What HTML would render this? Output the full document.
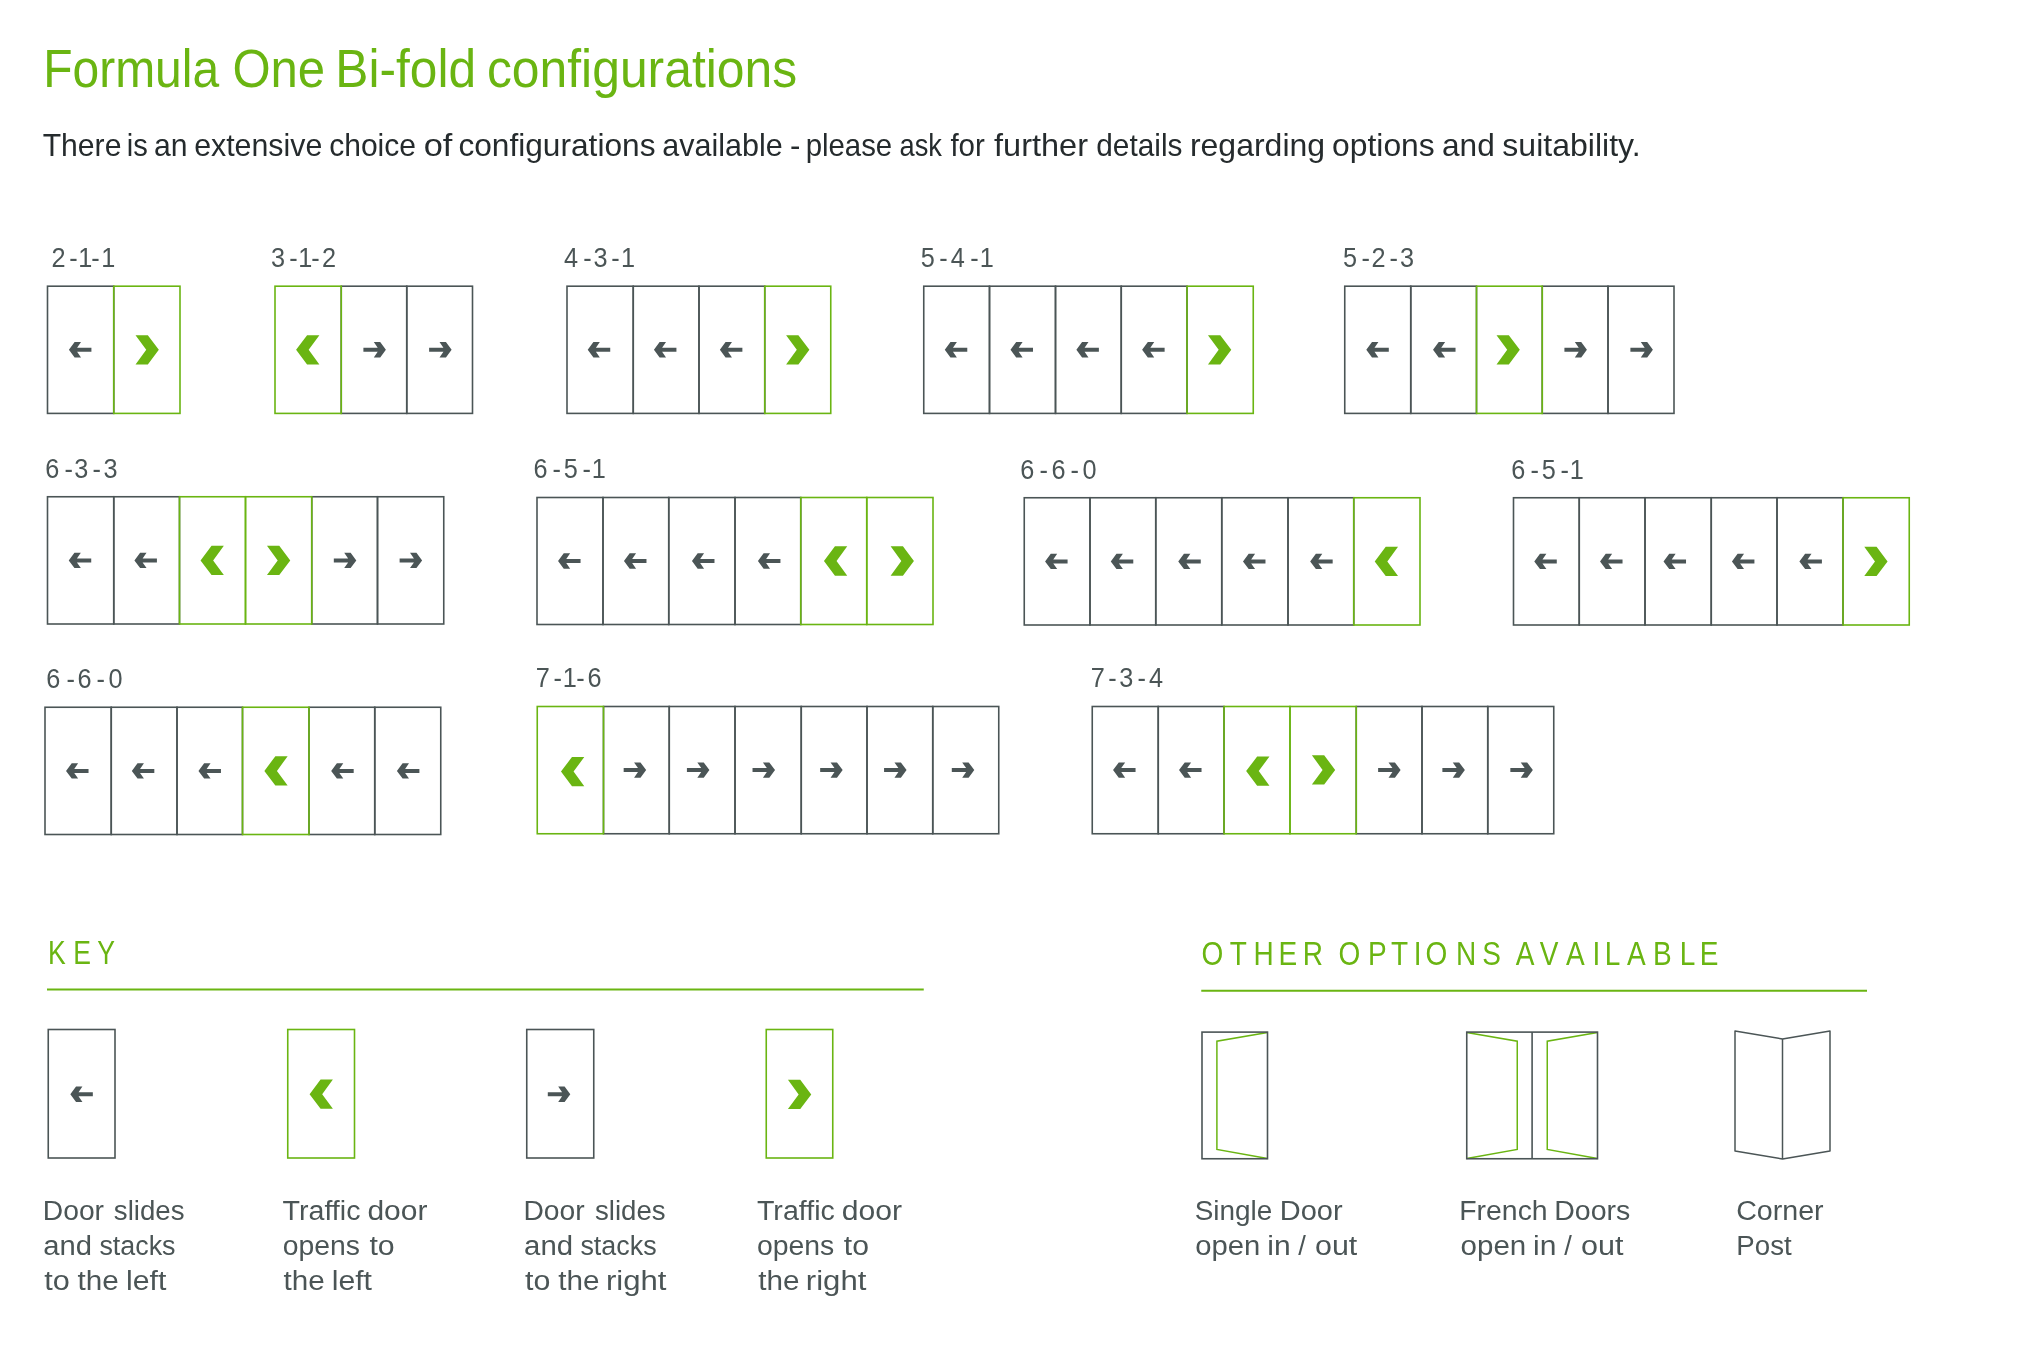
<!DOCTYPE html>
<html lang="en"><head><meta charset="utf-8"><title>Formula One Bi-fold configurations</title>
<style>html,body{margin:0;padding:0;background:#fff;}svg{display:block;will-change:transform;}text{font-family:"Liberation Sans",sans-serif;}</style>
</head><body>
<svg width="2017" height="1366" viewBox="0 0 2017 1366">
<rect width="2017" height="1366" fill="#ffffff"/>
<text y="86.60" font-size="53.00" fill="#6ab512"><tspan x="43.15" textLength="176.05" lengthAdjust="spacingAndGlyphs">Formula</tspan> <tspan x="232.40" textLength="92.79" lengthAdjust="spacingAndGlyphs">One</tspan> <tspan x="335.32" textLength="140.77" lengthAdjust="spacingAndGlyphs">Bi-fold</tspan> <tspan x="486.94" textLength="310.21" lengthAdjust="spacingAndGlyphs">configurations</tspan></text>
<text y="155.50" font-size="31.50" fill="#252b2d"><tspan x="42.63" textLength="78.79" lengthAdjust="spacingAndGlyphs">There</tspan> <tspan x="126.68" textLength="21.03" lengthAdjust="spacingAndGlyphs">is</tspan> <tspan x="153.96" textLength="33.54" lengthAdjust="spacingAndGlyphs">an</tspan> <tspan x="194.15" textLength="128.18" lengthAdjust="spacingAndGlyphs">extensive</tspan> <tspan x="329.16" textLength="86.86" lengthAdjust="spacingAndGlyphs">choice</tspan> <tspan x="423.73" textLength="28.66" lengthAdjust="spacingAndGlyphs">of</tspan> <tspan x="458.41" textLength="197.08" lengthAdjust="spacingAndGlyphs">configurations</tspan> <tspan x="662.25" textLength="120.49" lengthAdjust="spacingAndGlyphs">available</tspan> <tspan x="789.92" textLength="10.41" lengthAdjust="spacingAndGlyphs">-</tspan> <tspan x="805.66" textLength="86.53" lengthAdjust="spacingAndGlyphs">please</tspan> <tspan x="899.55" textLength="42.43" lengthAdjust="spacingAndGlyphs">ask</tspan> <tspan x="950.40" textLength="34.44" lengthAdjust="spacingAndGlyphs">for</tspan> <tspan x="994.10" textLength="93.86" lengthAdjust="spacingAndGlyphs">further</tspan> <tspan x="1096.27" textLength="86.16" lengthAdjust="spacingAndGlyphs">details</tspan> <tspan x="1189.90" textLength="135.20" lengthAdjust="spacingAndGlyphs">regarding</tspan> <tspan x="1332.11" textLength="102.59" lengthAdjust="spacingAndGlyphs">options</tspan> <tspan x="1442.01" textLength="52.76" lengthAdjust="spacingAndGlyphs">and</tspan> <tspan x="1502.30" textLength="138.29" lengthAdjust="spacingAndGlyphs">suitability.</tspan></text>
<text transform="translate(0 266.90) scale(0.9300 1)" font-size="27.20" fill="#4b5556" x="55.36 74.35 84.18 98.01 108.75">2-1-1</text>
<rect x="47.50" y="286.20" width="66.25" height="127.20" fill="none" stroke="#4b5556" stroke-width="1.6"/>
<rect x="113.75" y="286.20" width="66.25" height="127.20" fill="none" stroke="#6ab512" stroke-width="1.6"/>
<polygon fill="#4b5556" points="68.92,349.80 74.62,342.10 81.02,342.10 77.12,347.80 91.42,347.80 91.42,351.80 77.12,351.80 81.02,357.50 74.62,357.50"/>
<polygon fill="#6ab512" points="135.53,335.15 147.83,335.15 158.83,349.80 147.83,364.45 135.53,364.45 146.23,349.80"/>
<text transform="translate(0 266.90) scale(0.9300 1)" font-size="27.20" fill="#4b5556" x="291.33 310.91 320.63 334.57 346.17">3-1-2</text>
<rect x="341.25" y="286.20" width="65.50" height="127.20" fill="none" stroke="#4b5556" stroke-width="1.6"/>
<rect x="406.75" y="286.20" width="65.75" height="127.20" fill="none" stroke="#4b5556" stroke-width="1.6"/>
<rect x="275.00" y="286.20" width="66.25" height="127.20" fill="none" stroke="#6ab512" stroke-width="1.6"/>
<polygon fill="#6ab512" points="319.38,335.15 307.08,335.15 296.08,349.80 307.08,364.45 319.38,364.45 308.68,349.80"/>
<polygon fill="#4b5556" points="385.90,349.80 380.20,342.10 373.80,342.10 377.70,347.80 363.40,347.80 363.40,351.80 377.70,351.80 373.80,357.50 380.20,357.50"/>
<polygon fill="#4b5556" points="451.62,349.80 445.93,342.10 439.52,342.10 443.43,347.80 429.12,347.80 429.12,351.80 443.43,351.80 439.52,357.50 445.93,357.50"/>
<text transform="translate(0 266.90) scale(0.9300 1)" font-size="27.20" fill="#4b5556" x="606.38 627.10 638.15 657.20 667.78">4-3-1</text>
<rect x="567.00" y="286.20" width="66.25" height="127.20" fill="none" stroke="#4b5556" stroke-width="1.6"/>
<rect x="633.25" y="286.20" width="65.75" height="127.20" fill="none" stroke="#4b5556" stroke-width="1.6"/>
<rect x="699.00" y="286.20" width="65.75" height="127.20" fill="none" stroke="#4b5556" stroke-width="1.6"/>
<rect x="764.75" y="286.20" width="66.00" height="127.20" fill="none" stroke="#6ab512" stroke-width="1.6"/>
<polygon fill="#4b5556" points="587.73,349.80 593.42,342.10 599.82,342.10 595.92,347.80 610.23,347.80 610.23,351.80 595.92,351.80 599.82,357.50 593.42,357.50"/>
<polygon fill="#4b5556" points="653.93,349.80 659.62,342.10 666.02,342.10 662.12,347.80 676.43,347.80 676.43,351.80 662.12,351.80 666.02,357.50 659.62,357.50"/>
<polygon fill="#4b5556" points="719.88,349.80 725.57,342.10 731.97,342.10 728.07,347.80 742.38,347.80 742.38,351.80 728.07,351.80 731.97,357.50 725.57,357.50"/>
<polygon fill="#6ab512" points="786.10,335.15 798.40,335.15 809.40,349.80 798.40,364.45 786.10,364.45 796.80,349.80"/>
<text transform="translate(0 266.90) scale(0.9300 1)" font-size="27.20" fill="#4b5556" x="990.04 1009.89 1022.40 1043.23 1053.54">5-4-1</text>
<rect x="923.75" y="286.20" width="65.75" height="127.20" fill="none" stroke="#4b5556" stroke-width="1.6"/>
<rect x="989.50" y="286.20" width="66.00" height="127.20" fill="none" stroke="#4b5556" stroke-width="1.6"/>
<rect x="1055.50" y="286.20" width="65.75" height="127.20" fill="none" stroke="#4b5556" stroke-width="1.6"/>
<rect x="1121.25" y="286.20" width="65.75" height="127.20" fill="none" stroke="#4b5556" stroke-width="1.6"/>
<rect x="1187.00" y="286.20" width="66.25" height="127.20" fill="none" stroke="#6ab512" stroke-width="1.6"/>
<polygon fill="#4b5556" points="944.78,349.80 950.48,342.10 956.88,342.10 952.98,347.80 967.28,347.80 967.28,351.80 952.98,351.80 956.88,357.50 950.48,357.50"/>
<polygon fill="#4b5556" points="1010.50,349.80 1016.20,342.10 1022.60,342.10 1018.70,347.80 1033.00,347.80 1033.00,351.80 1018.70,351.80 1022.60,357.50 1016.20,357.50"/>
<polygon fill="#4b5556" points="1076.38,349.80 1082.08,342.10 1088.47,342.10 1084.58,347.80 1098.88,347.80 1098.88,351.80 1084.58,351.80 1088.47,357.50 1082.08,357.50"/>
<polygon fill="#4b5556" points="1142.12,349.80 1147.83,342.10 1154.22,342.10 1150.33,347.80 1164.62,347.80 1164.62,351.80 1150.33,351.80 1154.22,357.50 1147.83,357.50"/>
<polygon fill="#6ab512" points="1207.97,335.15 1220.28,335.15 1231.28,349.80 1220.28,364.45 1207.97,364.45 1218.67,349.80"/>
<text transform="translate(0 266.90) scale(0.9300 1)" font-size="27.20" fill="#4b5556" x="1444.01 1463.92 1474.66 1494.09 1505.30">5-2-3</text>
<rect x="1344.75" y="286.20" width="66.00" height="127.20" fill="none" stroke="#4b5556" stroke-width="1.6"/>
<rect x="1410.75" y="286.20" width="65.75" height="127.20" fill="none" stroke="#4b5556" stroke-width="1.6"/>
<rect x="1542.25" y="286.20" width="65.75" height="127.20" fill="none" stroke="#4b5556" stroke-width="1.6"/>
<rect x="1608.00" y="286.20" width="66.00" height="127.20" fill="none" stroke="#4b5556" stroke-width="1.6"/>
<rect x="1476.50" y="286.20" width="65.75" height="127.20" fill="none" stroke="#6ab512" stroke-width="1.6"/>
<polygon fill="#4b5556" points="1366.30,349.80 1372.00,342.10 1378.40,342.10 1374.50,347.80 1388.80,347.80 1388.80,351.80 1374.50,351.80 1378.40,357.50 1372.00,357.50"/>
<polygon fill="#4b5556" points="1433.03,349.80 1438.73,342.10 1445.12,342.10 1441.23,347.80 1455.53,347.80 1455.53,351.80 1441.23,351.80 1445.12,357.50 1438.73,357.50"/>
<polygon fill="#6ab512" points="1496.52,335.15 1508.83,335.15 1519.83,349.80 1508.83,364.45 1496.52,364.45 1507.22,349.80"/>
<polygon fill="#4b5556" points="1586.92,349.80 1581.22,342.10 1574.83,342.10 1578.72,347.80 1564.42,347.80 1564.42,351.80 1578.72,351.80 1574.83,357.50 1581.22,357.50"/>
<polygon fill="#4b5556" points="1652.90,349.80 1647.20,342.10 1640.80,342.10 1644.70,347.80 1630.40,347.80 1630.40,351.80 1644.70,351.80 1640.80,357.50 1647.20,357.50"/>
<text transform="translate(0 477.90) scale(0.9300 1)" font-size="27.20" fill="#4b5556" x="48.53 69.25 79.98 99.41 111.22">6-3-3</text>
<rect x="47.50" y="496.75" width="66.25" height="127.25" fill="none" stroke="#4b5556" stroke-width="1.6"/>
<rect x="113.75" y="496.75" width="65.75" height="127.25" fill="none" stroke="#4b5556" stroke-width="1.6"/>
<rect x="311.75" y="496.75" width="65.75" height="127.25" fill="none" stroke="#4b5556" stroke-width="1.6"/>
<rect x="377.50" y="496.75" width="66.25" height="127.25" fill="none" stroke="#4b5556" stroke-width="1.6"/>
<rect x="179.50" y="496.75" width="66.00" height="127.25" fill="none" stroke="#6ab512" stroke-width="1.6"/>
<rect x="245.50" y="496.75" width="66.25" height="127.25" fill="none" stroke="#6ab512" stroke-width="1.6"/>
<polygon fill="#4b5556" points="68.73,560.38 74.43,552.67 80.83,552.67 76.93,558.38 91.23,558.38 91.23,562.38 76.93,562.38 80.83,568.08 74.43,568.08"/>
<polygon fill="#4b5556" points="134.42,560.38 140.12,552.67 146.53,552.67 142.62,558.38 156.92,558.38 156.92,562.38 142.62,562.38 146.53,568.08 140.12,568.08"/>
<polygon fill="#6ab512" points="223.85,545.73 211.55,545.73 200.55,560.38 211.55,575.02 223.85,575.02 213.15,560.38"/>
<polygon fill="#6ab512" points="266.98,545.73 279.27,545.73 290.27,560.38 279.27,575.02 266.98,575.02 277.68,560.38"/>
<polygon fill="#4b5556" points="356.32,560.38 350.62,552.67 344.22,552.67 348.12,558.38 333.82,558.38 333.82,562.38 348.12,562.38 344.22,568.08 350.62,568.08"/>
<polygon fill="#4b5556" points="422.12,560.38 416.43,552.67 410.02,552.67 413.93,558.38 399.62,558.38 399.62,562.38 413.93,562.38 410.02,568.08 416.43,568.08"/>
<text transform="translate(0 477.90) scale(0.9300 1)" font-size="27.20" fill="#4b5556" x="573.59 594.03 606.16 626.29 636.28">6-5-1</text>
<rect x="537.00" y="497.50" width="66.00" height="127.00" fill="none" stroke="#4b5556" stroke-width="1.6"/>
<rect x="603.00" y="497.50" width="65.75" height="127.00" fill="none" stroke="#4b5556" stroke-width="1.6"/>
<rect x="668.75" y="497.50" width="66.25" height="127.00" fill="none" stroke="#4b5556" stroke-width="1.6"/>
<rect x="735.00" y="497.50" width="65.75" height="127.00" fill="none" stroke="#4b5556" stroke-width="1.6"/>
<rect x="800.75" y="497.50" width="66.00" height="127.00" fill="none" stroke="#6ab512" stroke-width="1.6"/>
<rect x="866.75" y="497.50" width="66.25" height="127.00" fill="none" stroke="#6ab512" stroke-width="1.6"/>
<polygon fill="#4b5556" points="558.05,561.00 563.75,553.30 570.15,553.30 566.25,559.00 580.55,559.00 580.55,563.00 566.25,563.00 570.15,568.70 563.75,568.70"/>
<polygon fill="#4b5556" points="623.98,561.00 629.67,553.30 636.07,553.30 632.17,559.00 646.48,559.00 646.48,563.00 632.17,563.00 636.07,568.70 629.67,568.70"/>
<polygon fill="#4b5556" points="691.98,561.00 697.67,553.30 704.07,553.30 700.17,559.00 714.48,559.00 714.48,563.00 700.17,563.00 704.07,568.70 697.67,568.70"/>
<polygon fill="#4b5556" points="757.93,561.00 763.62,553.30 770.02,553.30 766.12,559.00 780.43,559.00 780.43,563.00 766.12,563.00 770.02,568.70 763.62,568.70"/>
<polygon fill="#6ab512" points="847.25,546.35 834.95,546.35 823.95,561.00 834.95,575.65 847.25,575.65 836.55,561.00"/>
<polygon fill="#6ab512" points="890.62,546.35 902.92,546.35 913.92,561.00 902.92,575.65 890.62,575.65 901.32,561.00"/>
<text transform="translate(0 478.70) scale(0.9300 1)" font-size="27.20" fill="#4b5556" x="1097.03 1117.69 1130.63 1151.02 1164.07">6-6-0</text>
<rect x="1024.25" y="497.75" width="65.75" height="127.25" fill="none" stroke="#4b5556" stroke-width="1.6"/>
<rect x="1090.00" y="497.75" width="65.75" height="127.25" fill="none" stroke="#4b5556" stroke-width="1.6"/>
<rect x="1155.75" y="497.75" width="66.00" height="127.25" fill="none" stroke="#4b5556" stroke-width="1.6"/>
<rect x="1221.75" y="497.75" width="66.25" height="127.25" fill="none" stroke="#4b5556" stroke-width="1.6"/>
<rect x="1288.00" y="497.75" width="65.75" height="127.25" fill="none" stroke="#4b5556" stroke-width="1.6"/>
<rect x="1353.75" y="497.75" width="66.25" height="127.25" fill="none" stroke="#6ab512" stroke-width="1.6"/>
<polygon fill="#4b5556" points="1045.08,561.38 1050.78,553.67 1057.17,553.67 1053.28,559.38 1067.58,559.38 1067.58,563.38 1053.28,563.38 1057.17,569.08 1050.78,569.08"/>
<polygon fill="#4b5556" points="1110.78,561.38 1116.48,553.67 1122.88,553.67 1118.98,559.38 1133.28,559.38 1133.28,563.38 1118.98,563.38 1122.88,569.08 1116.48,569.08"/>
<polygon fill="#4b5556" points="1178.25,561.38 1183.95,553.67 1190.35,553.67 1186.45,559.38 1200.75,559.38 1200.75,563.38 1186.45,563.38 1190.35,569.08 1183.95,569.08"/>
<polygon fill="#4b5556" points="1242.98,561.38 1248.68,553.67 1255.08,553.67 1251.18,559.38 1265.48,559.38 1265.48,563.38 1251.18,563.38 1255.08,569.08 1248.68,569.08"/>
<polygon fill="#4b5556" points="1310.17,561.38 1315.88,553.67 1322.27,553.67 1318.38,559.38 1332.67,559.38 1332.67,563.38 1318.38,563.38 1322.27,569.08 1315.88,569.08"/>
<polygon fill="#6ab512" points="1398.03,546.73 1385.72,546.73 1374.72,561.38 1385.72,576.02 1398.03,576.02 1387.33,561.38"/>
<text transform="translate(0 478.90) scale(0.9300 1)" font-size="27.20" fill="#4b5556" x="1624.98 1645.65 1657.89 1677.90 1687.89">6-5-1</text>
<rect x="1513.50" y="497.75" width="65.75" height="127.25" fill="none" stroke="#4b5556" stroke-width="1.6"/>
<rect x="1579.25" y="497.75" width="65.75" height="127.25" fill="none" stroke="#4b5556" stroke-width="1.6"/>
<rect x="1645.00" y="497.75" width="66.25" height="127.25" fill="none" stroke="#4b5556" stroke-width="1.6"/>
<rect x="1711.25" y="497.75" width="65.75" height="127.25" fill="none" stroke="#4b5556" stroke-width="1.6"/>
<rect x="1777.00" y="497.75" width="66.00" height="127.25" fill="none" stroke="#4b5556" stroke-width="1.6"/>
<rect x="1843.00" y="497.75" width="66.25" height="127.25" fill="none" stroke="#6ab512" stroke-width="1.6"/>
<polygon fill="#4b5556" points="1534.28,561.38 1539.98,553.67 1546.38,553.67 1542.48,559.38 1556.78,559.38 1556.78,563.38 1542.48,563.38 1546.38,569.08 1539.98,569.08"/>
<polygon fill="#4b5556" points="1600.03,561.38 1605.73,553.67 1612.12,553.67 1608.23,559.38 1622.53,559.38 1622.53,563.38 1608.23,563.38 1612.12,569.08 1605.73,569.08"/>
<polygon fill="#4b5556" points="1663.53,561.38 1669.23,553.67 1675.62,553.67 1671.73,559.38 1686.03,559.38 1686.03,563.38 1671.73,563.38 1675.62,569.08 1669.23,569.08"/>
<polygon fill="#4b5556" points="1731.92,561.38 1737.62,553.67 1744.02,553.67 1740.12,559.38 1754.42,559.38 1754.42,563.38 1740.12,563.38 1744.02,569.08 1737.62,569.08"/>
<polygon fill="#4b5556" points="1799.40,561.38 1805.10,553.67 1811.50,553.67 1807.60,559.38 1821.90,559.38 1821.90,563.38 1807.60,563.38 1811.50,569.08 1805.10,569.08"/>
<polygon fill="#6ab512" points="1864.27,546.73 1876.58,546.73 1887.58,561.38 1876.58,576.02 1864.27,576.02 1874.97,561.38"/>
<text transform="translate(0 687.90) scale(0.9300 1)" font-size="27.20" fill="#4b5556" x="49.82 71.40 83.43 103.71 116.76">6-6-0</text>
<rect x="45.00" y="707.25" width="66.25" height="127.25" fill="none" stroke="#4b5556" stroke-width="1.6"/>
<rect x="111.25" y="707.25" width="65.75" height="127.25" fill="none" stroke="#4b5556" stroke-width="1.6"/>
<rect x="177.00" y="707.25" width="65.50" height="127.25" fill="none" stroke="#4b5556" stroke-width="1.6"/>
<rect x="309.00" y="707.25" width="65.75" height="127.25" fill="none" stroke="#4b5556" stroke-width="1.6"/>
<rect x="374.75" y="707.25" width="66.00" height="127.25" fill="none" stroke="#4b5556" stroke-width="1.6"/>
<rect x="242.50" y="707.25" width="66.50" height="127.25" fill="none" stroke="#6ab512" stroke-width="1.6"/>
<polygon fill="#4b5556" points="66.03,770.88 71.73,763.17 78.12,763.17 74.23,768.88 88.53,768.88 88.53,772.88 74.23,772.88 78.12,778.58 71.73,778.58"/>
<polygon fill="#4b5556" points="131.82,770.88 137.53,763.17 143.93,763.17 140.03,768.88 154.32,768.88 154.32,772.88 140.03,772.88 143.93,778.58 137.53,778.58"/>
<polygon fill="#4b5556" points="198.45,770.88 204.15,763.17 210.55,763.17 206.65,768.88 220.95,768.88 220.95,772.88 206.65,772.88 210.55,778.58 204.15,778.58"/>
<polygon fill="#6ab512" points="287.65,756.23 275.35,756.23 264.35,770.88 275.35,785.52 287.65,785.52 276.95,770.88"/>
<polygon fill="#4b5556" points="331.18,770.88 336.88,763.17 343.28,763.17 339.38,768.88 353.68,768.88 353.68,772.88 339.38,772.88 343.28,778.58 336.88,778.58"/>
<polygon fill="#4b5556" points="396.90,770.88 402.60,763.17 409.00,763.17 405.10,768.88 419.40,768.88 419.40,772.88 405.10,772.88 409.00,778.58 402.60,778.58"/>
<text transform="translate(0 686.75) scale(0.9300 1)" font-size="27.20" fill="#4b5556" x="575.95 595.11 605.20 619.52 631.70">7-1-6</text>
<rect x="603.50" y="706.50" width="65.75" height="127.25" fill="none" stroke="#4b5556" stroke-width="1.6"/>
<rect x="669.25" y="706.50" width="65.75" height="127.25" fill="none" stroke="#4b5556" stroke-width="1.6"/>
<rect x="735.00" y="706.50" width="66.25" height="127.25" fill="none" stroke="#4b5556" stroke-width="1.6"/>
<rect x="801.25" y="706.50" width="65.75" height="127.25" fill="none" stroke="#4b5556" stroke-width="1.6"/>
<rect x="867.00" y="706.50" width="65.75" height="127.25" fill="none" stroke="#4b5556" stroke-width="1.6"/>
<rect x="932.75" y="706.50" width="66.00" height="127.25" fill="none" stroke="#4b5556" stroke-width="1.6"/>
<rect x="537.25" y="706.50" width="66.25" height="127.25" fill="none" stroke="#6ab512" stroke-width="1.6"/>
<polygon fill="#6ab512" points="584.27,756.98 571.98,756.98 560.98,771.62 571.98,786.27 584.27,786.27 573.58,771.62"/>
<polygon fill="#4b5556" points="646.17,770.12 640.48,762.42 634.08,762.42 637.98,768.12 623.67,768.12 623.67,772.12 637.98,772.12 634.08,777.83 640.48,777.83"/>
<polygon fill="#4b5556" points="709.42,770.12 703.73,762.42 697.33,762.42 701.23,768.12 686.92,768.12 686.92,772.12 701.23,772.12 697.33,777.83 703.73,777.83"/>
<polygon fill="#4b5556" points="775.02,770.12 769.33,762.42 762.93,762.42 766.83,768.12 752.52,768.12 752.52,772.12 766.83,772.12 762.93,777.83 769.33,777.83"/>
<polygon fill="#4b5556" points="842.67,770.12 836.98,762.42 830.58,762.42 834.48,768.12 820.17,768.12 820.17,772.12 834.48,772.12 830.58,777.83 836.98,777.83"/>
<polygon fill="#4b5556" points="906.57,770.12 900.88,762.42 894.48,762.42 898.38,768.12 884.07,768.12 884.07,772.12 898.38,772.12 894.48,777.83 900.88,777.83"/>
<polygon fill="#4b5556" points="974.30,770.12 968.60,762.42 962.20,762.42 966.10,768.12 951.80,768.12 951.80,772.12 966.10,772.12 962.20,777.83 968.60,777.83"/>
<text transform="translate(0 686.75) scale(0.9300 1)" font-size="27.20" fill="#4b5556" x="1172.83 1191.67 1203.48 1223.12 1235.41">7-3-4</text>
<rect x="1092.25" y="706.50" width="66.00" height="127.25" fill="none" stroke="#4b5556" stroke-width="1.6"/>
<rect x="1158.25" y="706.50" width="65.75" height="127.25" fill="none" stroke="#4b5556" stroke-width="1.6"/>
<rect x="1356.25" y="706.50" width="65.75" height="127.25" fill="none" stroke="#4b5556" stroke-width="1.6"/>
<rect x="1422.00" y="706.50" width="65.75" height="127.25" fill="none" stroke="#4b5556" stroke-width="1.6"/>
<rect x="1487.75" y="706.50" width="66.00" height="127.25" fill="none" stroke="#4b5556" stroke-width="1.6"/>
<rect x="1224.00" y="706.50" width="66.00" height="127.25" fill="none" stroke="#6ab512" stroke-width="1.6"/>
<rect x="1290.00" y="706.50" width="66.25" height="127.25" fill="none" stroke="#6ab512" stroke-width="1.6"/>
<polygon fill="#4b5556" points="1113.05,770.12 1118.75,762.42 1125.15,762.42 1121.25,768.12 1135.55,768.12 1135.55,772.12 1121.25,772.12 1125.15,777.83 1118.75,777.83"/>
<polygon fill="#4b5556" points="1179.03,770.12 1184.73,762.42 1191.12,762.42 1187.23,768.12 1201.53,768.12 1201.53,772.12 1187.23,772.12 1191.12,777.83 1184.73,777.83"/>
<polygon fill="#6ab512" points="1269.45,756.48 1257.15,756.48 1246.15,771.12 1257.15,785.77 1269.45,785.77 1258.75,771.12"/>
<polygon fill="#6ab512" points="1311.88,755.27 1324.18,755.27 1335.18,769.92 1324.18,784.57 1311.88,784.57 1322.58,769.92"/>
<polygon fill="#4b5556" points="1400.62,770.12 1394.92,762.42 1388.53,762.42 1392.42,768.12 1378.12,768.12 1378.12,772.12 1392.42,772.12 1388.53,777.83 1394.92,777.83"/>
<polygon fill="#4b5556" points="1464.88,770.12 1459.17,762.42 1452.78,762.42 1456.67,768.12 1442.38,768.12 1442.38,772.12 1456.67,772.12 1452.78,777.83 1459.17,777.83"/>
<polygon fill="#4b5556" points="1532.85,770.12 1527.15,762.42 1520.75,762.42 1524.65,768.12 1510.35,768.12 1510.35,772.12 1524.65,772.12 1520.75,777.83 1527.15,777.83"/>
<text transform="translate(0 964.00) scale(0.8001 1)" font-size="33.20" fill="#6ab512" x="60.11 91.44 121.58">KEY</text>
<line x1="47" y1="989.4" x2="923.75" y2="989.4" stroke="#6ab512" stroke-width="2"/>
<text transform="translate(0 964.80) scale(0.8433 1)" font-size="33.20" fill="#6ab512" x="1424.77 1458.33 1486.34 1516.06 1544.79 1568.76 1587.27 1622.31 1649.41 1676.41 1690.49 1726.45 1757.55 1779.69 1797.37 1826.00 1856.89 1888.48 1902.93 1929.28 1960.25 1991.86 2015.62">OTHER OPTIONS AVAILABLE</text>
<line x1="1201.25" y1="990.8" x2="1867" y2="990.8" stroke="#6ab512" stroke-width="2"/>
<rect x="48.25" y="1029.50" width="66.75" height="128.50" fill="none" stroke="#4b5556" stroke-width="1.6"/>
<polygon fill="#4b5556" points="70.33,1094.25 76.03,1086.55 82.42,1086.55 78.53,1092.25 92.83,1092.25 92.83,1096.25 78.53,1096.25 82.42,1101.95 76.03,1101.95"/>
<rect x="287.75" y="1029.50" width="66.75" height="128.50" fill="none" stroke="#6ab512" stroke-width="1.6"/>
<polygon fill="#6ab512" points="332.88,1079.50 320.58,1079.50 309.58,1094.15 320.58,1108.80 332.88,1108.80 322.18,1094.15"/>
<rect x="526.75" y="1029.50" width="67.00" height="128.50" fill="none" stroke="#4b5556" stroke-width="1.6"/>
<polygon fill="#4b5556" points="570.30,1094.25 564.60,1086.55 558.20,1086.55 562.10,1092.25 547.80,1092.25 547.80,1096.25 562.10,1096.25 558.20,1101.95 564.60,1101.95"/>
<rect x="766.25" y="1029.50" width="66.50" height="128.50" fill="none" stroke="#6ab512" stroke-width="1.6"/>
<polygon fill="#6ab512" points="787.95,1079.80 800.25,1079.80 811.25,1094.45 800.25,1109.10 787.95,1109.10 798.65,1094.45"/>
<text y="1219.50" font-size="28.20" fill="#4b5556"><tspan x="42.79" textLength="61.25" lengthAdjust="spacingAndGlyphs">Door</tspan> <tspan x="113.87" textLength="70.70" lengthAdjust="spacingAndGlyphs">slides</tspan></text>
<text y="1254.90" font-size="28.20" fill="#4b5556"><tspan x="43.29" textLength="48.75" lengthAdjust="spacingAndGlyphs">and</tspan> <tspan x="99.38" textLength="76.16" lengthAdjust="spacingAndGlyphs">stacks</tspan></text>
<text y="1290.30" font-size="28.20" fill="#4b5556"><tspan x="44.20" textLength="25.54" lengthAdjust="spacingAndGlyphs">to</tspan> <tspan x="77.50" textLength="41.20" lengthAdjust="spacingAndGlyphs">the</tspan> <tspan x="126.01" textLength="40.28" lengthAdjust="spacingAndGlyphs">left</tspan></text>
<text y="1219.50" font-size="28.20" fill="#4b5556"><tspan x="282.55" textLength="77.89" lengthAdjust="spacingAndGlyphs">Traffic</tspan> <tspan x="367.46" textLength="59.98" lengthAdjust="spacingAndGlyphs">door</tspan></text>
<text y="1254.90" font-size="28.20" fill="#4b5556"><tspan x="282.71" textLength="77.17" lengthAdjust="spacingAndGlyphs">opens</tspan> <tspan x="369.40" textLength="25.23" lengthAdjust="spacingAndGlyphs">to</tspan></text>
<text y="1290.30" font-size="28.20" fill="#4b5556"><tspan x="283.60" textLength="41.20" lengthAdjust="spacingAndGlyphs">the</tspan> <tspan x="331.71" textLength="40.28" lengthAdjust="spacingAndGlyphs">left</tspan></text>
<text y="1219.50" font-size="28.20" fill="#4b5556"><tspan x="523.39" textLength="61.25" lengthAdjust="spacingAndGlyphs">Door</tspan> <tspan x="594.97" textLength="70.59" lengthAdjust="spacingAndGlyphs">slides</tspan></text>
<text y="1254.90" font-size="28.20" fill="#4b5556"><tspan x="524.08" textLength="48.97" lengthAdjust="spacingAndGlyphs">and</tspan> <tspan x="580.38" textLength="76.26" lengthAdjust="spacingAndGlyphs">stacks</tspan></text>
<text y="1290.30" font-size="28.20" fill="#4b5556"><tspan x="525.00" textLength="25.33" lengthAdjust="spacingAndGlyphs">to</tspan> <tspan x="558.30" textLength="41.20" lengthAdjust="spacingAndGlyphs">the</tspan> <tspan x="605.95" textLength="60.54" lengthAdjust="spacingAndGlyphs">right</tspan></text>
<text y="1219.50" font-size="28.20" fill="#4b5556"><tspan x="756.95" textLength="77.89" lengthAdjust="spacingAndGlyphs">Traffic</tspan> <tspan x="841.76" textLength="60.29" lengthAdjust="spacingAndGlyphs">door</tspan></text>
<text y="1254.90" font-size="28.20" fill="#4b5556"><tspan x="756.91" textLength="77.37" lengthAdjust="spacingAndGlyphs">opens</tspan> <tspan x="843.80" textLength="25.12" lengthAdjust="spacingAndGlyphs">to</tspan></text>
<text y="1290.30" font-size="28.20" fill="#4b5556"><tspan x="758.20" textLength="41.20" lengthAdjust="spacingAndGlyphs">the</tspan> <tspan x="805.85" textLength="60.54" lengthAdjust="spacingAndGlyphs">right</tspan></text>
<text y="1219.50" font-size="28.20" fill="#4b5556"><tspan x="1194.73" textLength="77.60" lengthAdjust="spacingAndGlyphs">Single</tspan> <tspan x="1279.74" textLength="62.81" lengthAdjust="spacingAndGlyphs">Door</tspan></text>
<text y="1254.90" font-size="28.20" fill="#4b5556"><tspan x="1195.29" textLength="65.06" lengthAdjust="spacingAndGlyphs">open</tspan> <tspan x="1267.22" textLength="23.36" lengthAdjust="spacingAndGlyphs">in</tspan> <tspan x="1298.30" textLength="7.61" lengthAdjust="spacingAndGlyphs">/</tspan> <tspan x="1315.05" textLength="42.25" lengthAdjust="spacingAndGlyphs">out</tspan></text>
<text y="1219.50" font-size="28.20" fill="#4b5556"><tspan x="1459.28" textLength="88.41" lengthAdjust="spacingAndGlyphs">French</tspan> <tspan x="1554.27" textLength="76.12" lengthAdjust="spacingAndGlyphs">Doors</tspan></text>
<text y="1254.90" font-size="28.20" fill="#4b5556"><tspan x="1460.58" textLength="65.68" lengthAdjust="spacingAndGlyphs">open</tspan> <tspan x="1533.12" textLength="23.36" lengthAdjust="spacingAndGlyphs">in</tspan> <tspan x="1564.20" textLength="7.61" lengthAdjust="spacingAndGlyphs">/</tspan> <tspan x="1580.95" textLength="42.45" lengthAdjust="spacingAndGlyphs">out</tspan></text>
<text y="1219.50" font-size="28.20" fill="#4b5556"><tspan x="1736.16" textLength="87.48" lengthAdjust="spacingAndGlyphs">Corner</tspan></text>
<text y="1254.90" font-size="28.20" fill="#4b5556"><tspan x="1736.34" textLength="55.32" lengthAdjust="spacingAndGlyphs">Post</tspan></text>
<polyline fill="none" stroke="#6ab512" stroke-width="1.5" points="1267.5,1032.5 1216.9,1041.25 1216.9,1149.4 1267.5,1158.4"/>
<rect x="1202" y="1032.10" width="65.5" height="126.65" fill="none" stroke="#4b5556" stroke-width="1.6"/>
<polyline fill="none" stroke="#6ab512" stroke-width="1.5" points="1466.75,1032.5 1517.25,1041.25 1517.25,1149.4 1466.75,1158.4"/>
<polyline fill="none" stroke="#6ab512" stroke-width="1.5" points="1597.5,1032.5 1547.25,1041.25 1547.25,1149.4 1597.5,1158.4"/>
<rect x="1466.75" y="1032.10" width="130.75" height="126.65" fill="none" stroke="#4b5556" stroke-width="1.6"/>
<line x1="1532.1" y1="1032.10" x2="1532.1" y2="1158.75" stroke="#4b5556" stroke-width="1.6"/>
<polygon fill="none" stroke="#4b5556" stroke-width="1.5" stroke-linejoin="round" points="1735,1031 1782.5,1039 1830,1031 1830,1151 1782.5,1159 1735,1151"/>
<line x1="1782.5" y1="1039" x2="1782.5" y2="1159" stroke="#4b5556" stroke-width="1.5"/>
</svg>
</body></html>
